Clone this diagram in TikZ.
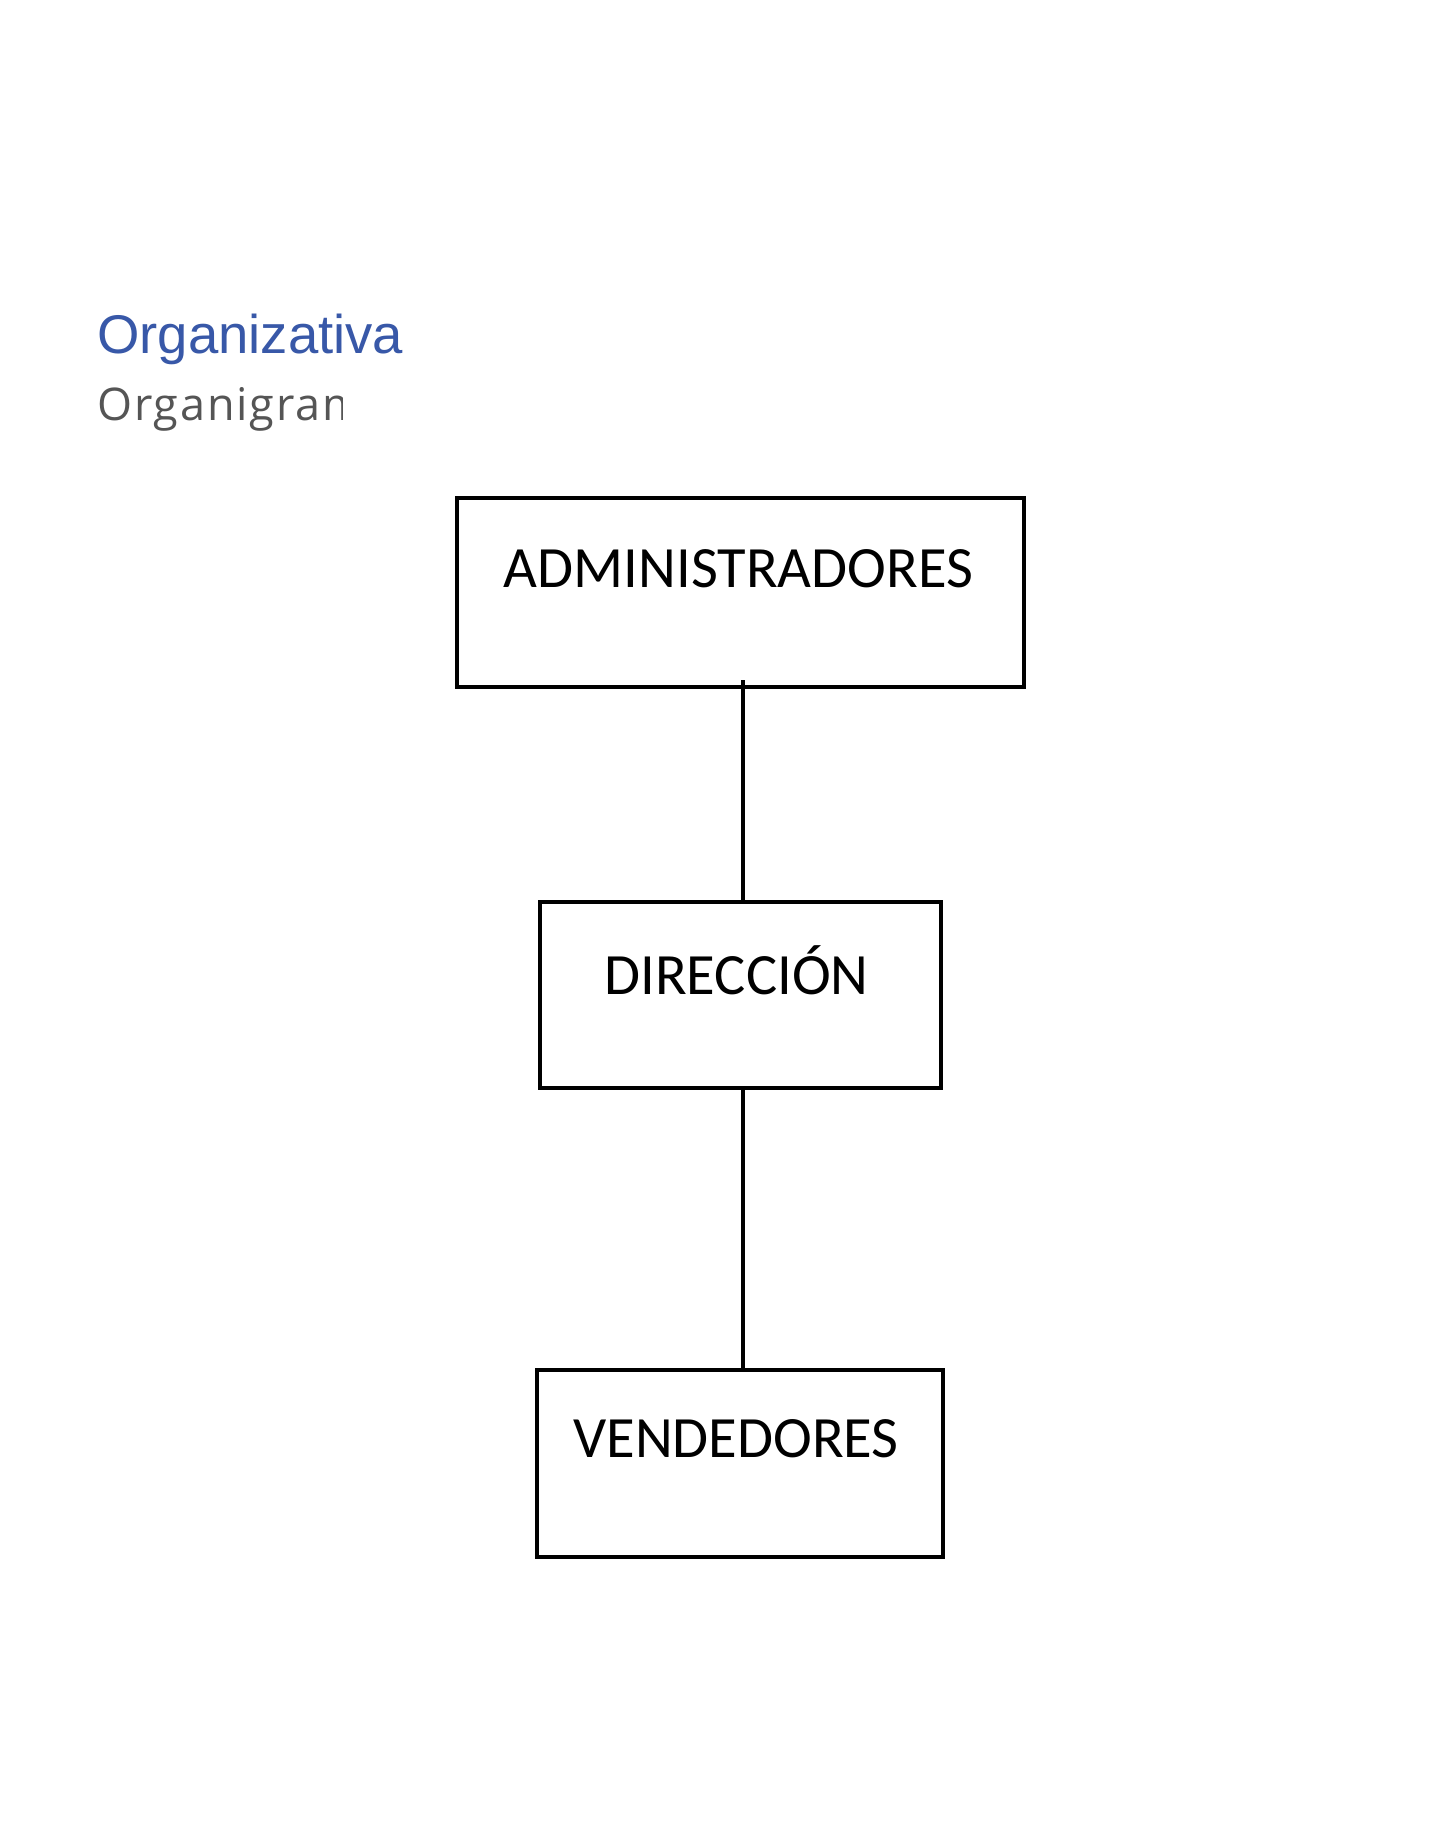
\documentclass[tikz,border=0pt]{standalone}
\usepackage{fontspec}
\newfontfamily\boxfont{Carlito}
\newfontfamily\titlefont{Liberation Sans}
\newfontfamily\subfont[LetterSpace=4]{Open Sans}
\definecolor{titleblue}{RGB}{56,88,168}
\definecolor{subgray}{RGB}{85,85,85}
\tikzset{
  orgbox/.style={draw=black, line width=3.5pt, rectangle, inner sep=0pt, fill=white},
  boxlabel/.style={anchor=base, inner sep=0pt, font=\boxfont\fontsize{58.5}{62}\selectfont, text=black},
  link/.style={draw=black, line width=3.5pt}
}
\begin{document}
\begin{tikzpicture}[x=1pt,y=-1pt]
\useasboundingbox[fill=white] (0,0) rectangle (1445,1821);
% title texts
\node[anchor=base west, inner sep=0pt, text=titleblue, font=\titlefont\fontsize{54.5}{60}\selectfont] (title) at (97,353) {Organizativa};
\begin{scope}
\clip (80,370) rectangle (342,440);
\node[anchor=base west, inner sep=0pt, text=subgray, font=\subfont\fontsize{45}{50}\selectfont] (subtitle) at (97,420) {Organigram};
\end{scope}
\coordinate (c1) at (743,680);
\coordinate (c3) at (743,1088);
% boxes
\node[orgbox, minimum width=567pt, minimum height=189pt] (adm) at (740.5,592.5) {};
\node[orgbox, minimum width=401pt, minimum height=186pt] (dir) at (740.5,995) {};
\node[orgbox, minimum width=406pt, minimum height=187pt] (ven) at (740,1463.5) {};
% connectors
\draw[link] (c1) -- (dir.north -| c1);
\draw[link] (dir.south -| c3) -- (ven.north -| c3);
% labels
\node[boxlabel] (admt) at (738.5,587) {ADMINISTRADORES};
\node[boxlabel] (dirt) at (736.5,994) {DIRECCIÓN};
\node[boxlabel] (vent) at (736,1457) {VENDEDORES};
\end{tikzpicture}
\end{document}
